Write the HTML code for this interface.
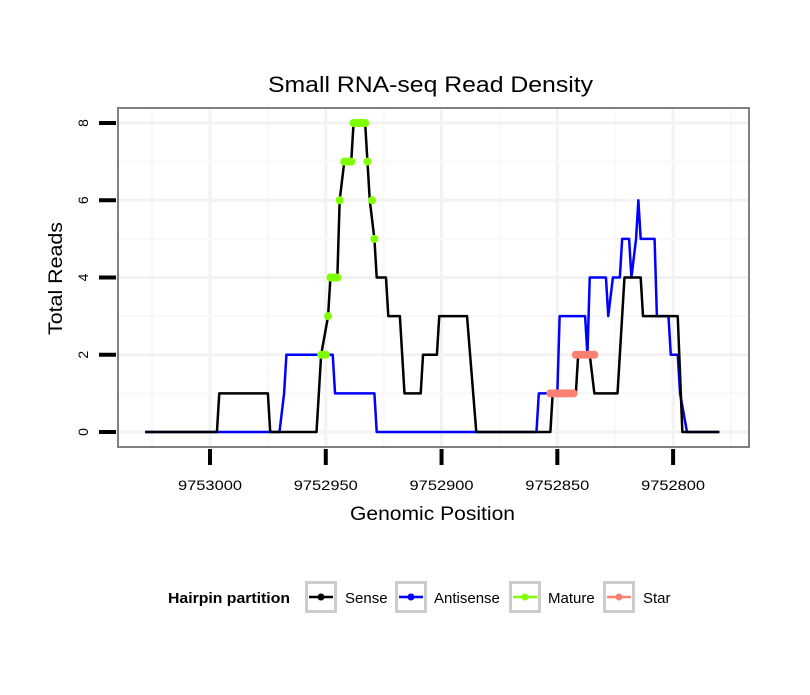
<!DOCTYPE html>
<html><head><meta charset="utf-8"><style>
body{margin:0;background:#fff;font-family:"Liberation Sans",sans-serif}
svg text{font-family:"Liberation Sans",sans-serif}
</style></head><body>
<svg id="chart" width="810" height="690" xmlns="http://www.w3.org/2000/svg">
<rect width="810" height="690" fill="#fff"/>
<text x="268" y="92" font-size="22" textLength="325" lengthAdjust="spacingAndGlyphs">Small RNA-seq Read Density</text>
<g id="grid"></g>
<g id="series"></g>
<rect x="118" y="108" width="631" height="339" fill="none" stroke="#808080" stroke-width="2"/>
<g id="axes"></g>
<text x="350" y="520" font-size="19" textLength="165" lengthAdjust="spacingAndGlyphs">Genomic Position</text>
<text transform="translate(62,335) rotate(-90)" font-size="19" textLength="113" lengthAdjust="spacingAndGlyphs">Total Reads</text>
<g id="legend">
<text x="168" y="603" font-size="15" font-weight="bold" textLength="122" lengthAdjust="spacingAndGlyphs">Hairpin partition</text>
</g>
</svg>
<script>
const xTicks=[9753000,9752950,9752900,9752850,9752800];
const yTicks=[0,2,4,6,8];
const senseX=[9753028,9752997,9752996,9752975,9752974,9752954,9752952,9752949,9752948,9752945,9752944,9752942,9752939,9752938,9752933,9752932,9752931,9752929,9752928,9752924,9752923,9752918,9752916,9752909,9752908,9752902,9752901,9752889,9752885,9752853,9752852,9752842,9752841,9752836,9752834,9752824,9752823,9752821,9752814,9752813,9752798,9752796,9752780];
const senseY=[0,0,1,1,0,0,2,3,4,4,6,7,7,8,8,7,6,5,4,4,3,3,1,1,2,2,3,3,0,0,1,1,2,2,1,1,2,4,4,3,3,0,0];
const antiX=[9753028,9752970,9752968,9752967,9752947,9752946,9752929,9752928,9752859,9752858,9752850,9752849,9752838,9752837,9752836,9752829,9752828,9752826,9752823,9752822,9752819,9752818,9752816,9752815,9752814,9752808,9752807,9752802,9752801,9752798,9752797,9752794,9752780];
const antiY=[0,0,1,2,2,1,1,0,0,1,1,3,3,2,4,4,3,4,4,5,5,4,5,6,5,5,3,3,2,2,1,0,0];
const matureX=[9752952,9752951,9752950,9752949,9752948,9752947,9752946,9752945,9752944,9752942,9752941,9752940,9752939,9752938,9752937,9752936,9752935,9752934,9752933,9752932,9752930,9752929];
const matureY=[2,2,2,3,4,4,4,4,6,7,7,7,7,8,8,8,8,8,8,7,6,5];
const starX=[9752853,9752852,9752851,9752850,9752849,9752848,9752847,9752846,9752845,9752844,9752843,9752842,9752841,9752840,9752839,9752838,9752837,9752836,9752835,9752834];
const starY=[1,1,1,1,1,1,1,1,1,1,1,2,2,2,2,2,2,2,2,2];

const NS="http://www.w3.org/2000/svg";
const xs=v=>210+(9753000-v)*2.3155;
const ys=v=>432-v*38.625;
function mk(tag,attrs,parent){const e=document.createElementNS(NS,tag);for(const k in attrs)e.setAttribute(k,attrs[k]);parent.appendChild(e);return e;}
const grid=document.getElementById('grid'),axes=document.getElementById('axes'),ser=document.getElementById('series');
for(let v=9753025;v>=9752775;v-=25){const x=xs(v);if(x<118||x>749)continue;
 const g=mk('line',{x1:x,x2:x,y1:109,y2:446,stroke:v%50===0?'#f2f2f2':'#f8f8f8','stroke-width':v%50===0?3:2},grid);
 
 }
for(let v=0;v<=8;v++){const y=ys(v);
 const g=mk('line',{x1:119,x2:748,y1:y,y2:y,stroke:v%2===0?'#f2f2f2':'#f8f8f8','stroke-width':v%2===0?3:2},grid);
 
 }
xTicks.forEach(v=>{const x=xs(v);
 const t=mk('line',{x1:x,x2:x,y1:449,y2:465,stroke:'#000','stroke-width':4},axes);
 
 
 const l=mk('text',{x:x-32,y:490,'font-size':14,textLength:64,lengthAdjust:'spacingAndGlyphs'},axes);l.textContent=v;
 
 });
yTicks.forEach(v=>{const y=ys(v);
 const t=mk('line',{x1:99,x2:116,y1:y,y2:y,stroke:'#000','stroke-width':4},axes);
 
 
 const l=mk('text',{transform:`translate(88,${y}) rotate(-90)`,'text-anchor':'middle','font-size':14},axes);l.textContent=v;
 
 });
function line(X,Y,color,name){const p=mk('polyline',{points:X.map((v,i)=>xs(v)+','+ys(Y[i])).join(' '),fill:'none',stroke:color,'stroke-width':2.5,'stroke-linejoin':'round'},ser);
 
 }
line(antiX,antiY,'#0000ff','antisense-line');
line(senseX,senseY,'#000000','sense-line');
function pts(X,Y,color,name){X.forEach((v,i)=>{const c=mk('ellipse',{cx:xs(v),cy:ys(Y[i]),rx:4,ry:4,fill:color},ser);
 
 });}
pts(matureX,matureY,'#7fff00','mature-point');
pts(starX,starY,'#fa8072','star-point');
const leg=document.getElementById('legend');
[['Sense','#000',305,345],['Antisense','#0000ff',395,434],['Mature','#7fff00',509,548],['Star','#fa8072',603,643]].forEach(([n,c,bx,tx])=>{
 const g=mk('g',{},leg);
 
 
 mk('rect',{x:bx+1.5,y:582.5,width:29,height:29,fill:'#fff',stroke:'#cccccc','stroke-width':3},g);
 mk('line',{x1:bx+4,x2:bx+28,y1:597,y2:597,stroke:c,'stroke-width':2.5},g);
 mk('circle',{cx:bx+16,cy:597,r:3.5,fill:c},g);
 const t=mk('text',{x:tx,y:603,'font-size':15},g);t.textContent=n;});
</script>
</body></html>
